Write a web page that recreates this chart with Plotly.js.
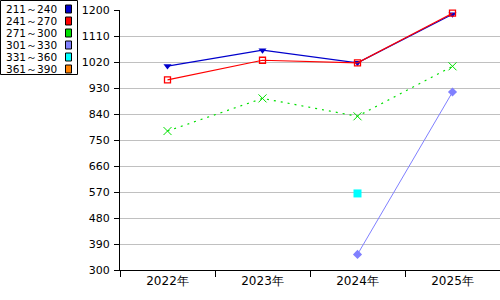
<!DOCTYPE html>
<html><head><meta charset="utf-8">
<script src="https://cdn.plot.ly/plotly-3.0.1.min.js"></script>
<style>html,body{margin:0;padding:0;background:#fff}#c{width:500px;height:300px}</style>
</head><body><div id="c"></div>
<script>
const years = ["2022年","2023年","2024年","2025年"];
const seriesNames = ["211～240","241～270","271～300","301～330","331～360","361～390"];
const seriesColors = ["#0000cc","#ff0000","#00e000","#8080ff","#00ffff","#ff8000"];
const s211 = [1006, 1061, 1017, 1185];
const s241 = [958, 1026, 1017, 1189];
const s271 = [781, 894, 832, 1005];
const s301 = [null, null, 354, 916];
const s331 = [null, null, 565, null];
const s361 = [null, null, null, null];
const yTicks = [300,390,480,570,660,750,840,930,1020,1110,1200];

const FONT = "DejaVu Sans, Verdana, sans-serif";
const traces = [
  {x: years, y: s211, mode: "lines+markers", line:{color:seriesColors[0], width:1.2},
   marker:{symbol:"triangle-down", size:7, color:seriesColors[0]}},
  {x: years, y: s241, mode: "lines+markers", line:{color:seriesColors[1], width:1.2},
   marker:{symbol:"square-open", size:6, color:seriesColors[1], line:{width:1.3}}},
  {x: years, y: s271, mode: "lines+markers", line:{color:seriesColors[2], width:1.2, dash:"2px,5px"},
   marker:{symbol:"x-thin-open", size:8, color:seriesColors[2], line:{width:1, color:seriesColors[2]}}},
  {x: years, y: s301, mode: "lines+markers", line:{color:seriesColors[3], width:1},
   marker:{symbol:"diamond", size:7, color:seriesColors[3]}},
  {x: years, y: s331, mode: "lines+markers", line:{color:seriesColors[4], width:1},
   marker:{symbol:"square", size:8, color:seriesColors[4]}},
  {x: years, y: s361, mode: "lines+markers", line:{color:seriesColors[5], width:1},
   marker:{symbol:"square", size:8, color:seriesColors[5]}}
].map(t => Object.assign(t, {showlegend:false, cliponaxis:false, hoverinfo:"skip"}));

// plot area in pixels: x 120..500, y 10..270
const PL=120, PW=380, PT=10, PH=260;
const px = v => (v-PL)/PW;
const py = v => (PT+PH-v)/PH;

const shapes = [{type:"rect", xref:"paper", yref:"paper", x0:px(0.5), x1:px(77.5), y0:py(0.5), y1:py(74.5),
  line:{color:"#000", width:1}, fillcolor:"#fff"}];
const annotations = [];
seriesNames.forEach((n,i)=>{
  const cy = 9 + i*12;
  annotations.push({xref:"paper", yref:"paper", x:px(5), y:py(cy), xanchor:"left", yanchor:"middle",
    text:n, showarrow:false, borderpad:0, font:{family:FONT, size:10.5, color:"#000"}});
  shapes.push({type:"rect", xref:"paper", yref:"paper", x0:px(65.5), x1:px(71.5), y0:py(cy-4), y1:py(cy+4),
    line:{color:"#000", width:1}, fillcolor:seriesColors[i]});
});

const layout = {
  width:500, height:300,
  margin:{l:PL, r:0, t:PT, b:30, pad:0},
  paper_bgcolor:"#fff", plot_bgcolor:"#fff",
  font:{family:FONT, size:11, color:"#000"},
  xaxis:{type:"category", showline:true, linecolor:"#000", linewidth:1, ticks:"outside", tickson:"boundaries",
    ticklen:6, tickcolor:"#000", tickwidth:1, showgrid:false, zeroline:false, fixedrange:true,
    tickfont:{family:FONT, size:12}, range:[-0.5,3.5]},
  yaxis:{range:[300,1200], tickvals:yTicks, ticktext:yTicks.map(String), showline:true, linecolor:"#000", linewidth:1,
    ticks:"outside", ticklen:5, tickcolor:"#000", showgrid:true, gridcolor:"#c0c0c0", gridwidth:1,
    zeroline:false, tickfont:{family:FONT, size:11}, ticklabelstandoff:2},
  shapes, annotations
};
Plotly.newPlot("c", traces, layout, {staticPlot:true});
</script></body></html>
